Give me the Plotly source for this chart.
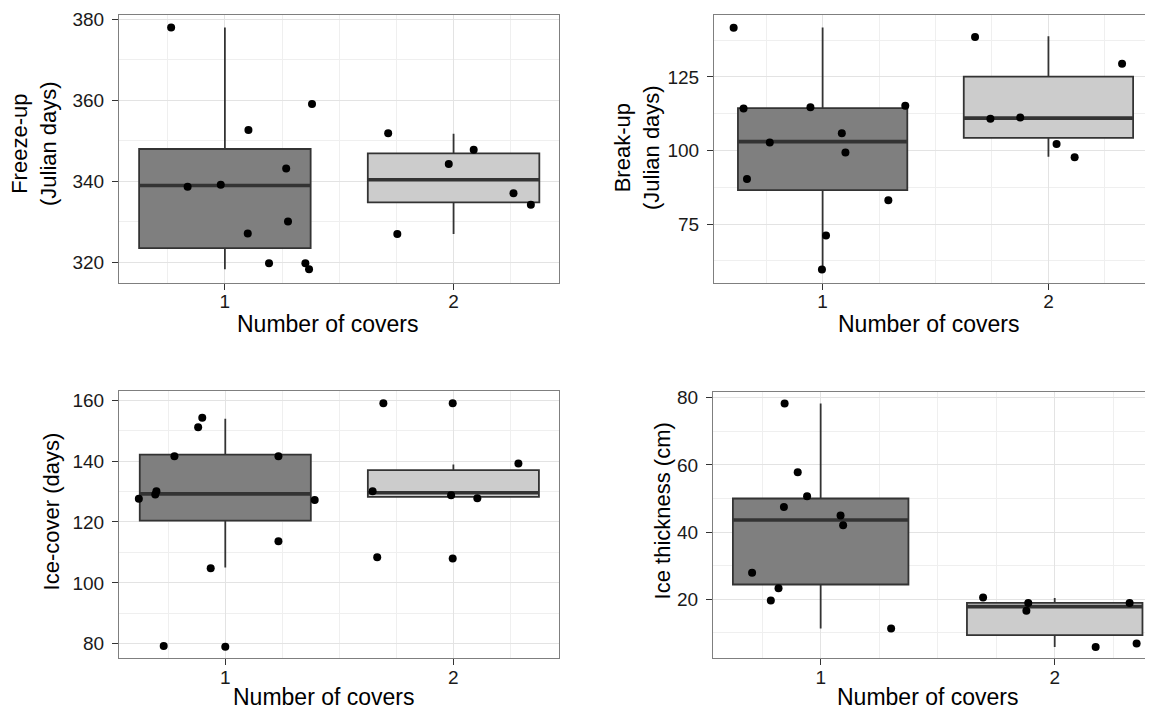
import plotly.graph_objects as go

# ---------------- data ----------------
groups = [1, 2]
tick_labels = ["1", "2"]

# Panel A: Freeze-up (Julian days)
freeze_x1 = [0.765, 0.837, 0.982, 1.103, 1.100, 1.193, 1.268, 1.276, 1.381, 1.352, 1.368]
freeze_y1 = [378.0, 338.7, 339.2, 352.7, 327.1, 319.8, 343.2, 330.1, 359.1, 319.8, 318.3]
freeze_x2 = [1.714, 1.754, 1.979, 2.088, 2.262, 2.338]
freeze_y2 = [351.9, 327.0, 344.3, 347.8, 337.1, 334.2]
freeze_lower = [318.3, 327.0]
freeze_q1 = [323.5, 334.8]
freeze_median = [339.0, 340.4]
freeze_q3 = [348.0, 346.9]
freeze_upper = [378.0, 351.8]

# Panel B: Break-up (Julian days)
break_x1 = [0.606, 0.650, 0.665, 0.766, 0.946, 0.997, 1.015, 1.085, 1.101, 1.291, 1.366]
break_y1 = [141.7, 114.3, 90.3, 102.7, 114.7, 59.5, 71.1, 105.9, 99.3, 83.1, 115.2]
break_x2 = [1.675, 1.743, 1.875, 2.036, 2.116, 2.326]
break_y2 = [138.6, 110.8, 111.2, 102.2, 97.7, 129.5]
break_lower = [59.5, 97.9]
break_q1 = [86.5, 104.3]
break_median = [103.0, 111.0]
break_q3 = [114.4, 125.1]
break_upper = [141.8, 138.8]

# Panel C: Ice-cover (days)
cover_x1 = [0.621, 0.693, 0.698, 0.730, 0.777, 0.881, 0.899, 0.936, 1.000, 1.233, 1.233, 1.392]
cover_y1 = [127.6, 129.0, 130.1, 79.3, 141.6, 151.1, 154.2, 104.8, 79.0, 141.6, 113.7, 127.2]
cover_x2 = [1.646, 1.693, 1.666, 1.997, 1.990, 1.997, 2.105, 2.285]
cover_y2 = [130.1, 159.0, 108.4, 159.0, 128.8, 108.0, 127.8, 139.2]
cover_lower = [105.0, 128.2]
cover_q1 = [120.4, 128.2]
cover_median = [129.2, 129.6]
cover_q3 = [142.1, 137.0]
cover_upper = [153.9, 138.9]

# Panel D: Ice thickness (cm)
thick_x1 = [0.846, 0.902, 0.942, 0.843, 1.085, 1.096, 0.707, 0.820, 0.787, 1.301]
thick_y1 = [78.3, 57.8, 50.7, 47.5, 44.9, 42.0, 27.9, 23.3, 19.6, 11.3]
thick_x2 = [1.694, 1.887, 1.879, 2.175, 2.320, 2.350]
thick_y2 = [20.5, 18.9, 16.6, 5.8, 18.9, 6.8]
thick_lower = [11.3, 5.8]
thick_q1 = [24.4, 9.3]
thick_median = [43.6, 17.8]
thick_q3 = [50.0, 18.9]
thick_upper = [78.3, 20.4]

panels = [
    dict(px=[freeze_x1, freeze_x2], py=[freeze_y1, freeze_y2], lo=freeze_lower, q1=freeze_q1,
         med=freeze_median, q3=freeze_q3, hi=freeze_upper,
         ytitle="Freeze-up<br>(Julian days)",
         yticks=[320, 340, 360, 380], yminor=[310, 330, 350, 370], yrange=[315.0, 381.0],
         xrange=[0.537, 2.461]),
    dict(px=[break_x1, break_x2], py=[break_y1, break_y2], lo=break_lower, q1=break_q1,
         med=break_median, q3=break_q3, hi=break_upper,
         ytitle="Break-up<br>(Julian days)",
         yticks=[75, 100, 125], yminor=[62.5, 87.5, 112.5, 137.5], yrange=[55.1, 145.9],
         xrange=[0.519, 2.463]),
    dict(px=[cover_x1, cover_x2], py=[cover_y1, cover_y2], lo=cover_lower, q1=cover_q1,
         med=cover_median, q3=cover_q3, hi=cover_upper,
         ytitle="Ice-cover (days)",
         yticks=[80, 100, 120, 140, 160], yminor=[90, 110, 130, 150], yrange=[75.2, 162.9],
         xrange=[0.534, 2.463]),
    dict(px=[thick_x1, thick_x2], py=[thick_y1, thick_y2], lo=thick_lower, q1=thick_q1,
         med=thick_median, q3=thick_q3, hi=thick_upper,
         ytitle="Ice thickness (cm)",
         yticks=[20, 40, 60, 80], yminor=[10, 30, 50, 70], yrange=[2.4, 81.7],
         xrange=[0.54, 2.42]),
]

# ---------------- layout geometry (screen pixels) ----------------
SCREEN_W, SCREEN_H = 1153, 711
OFF = 8                      # default page body margin
W, H = SCREEN_W - OFF, SCREEN_H - OFF


def px_x(x):
    return (x - OFF) / W


def px_y(y):
    return 1 - (y - OFF) / H


xdom_px = [(119, 559), (714, 1153), (119, 559), (713, 1153)]
ydom_px = [(10.5, 279.5), (10.5, 279.5), (389.0, 658.0), (389.7, 658.0)]
ytitle_pos = [(34, 140), (637, 144), (51, 510), (662, 510)]
xtitle_pos = [(328, 321), (929, 321), (324, 697), (928, 697)]
right_side = [False, True, False, True]

box_width = 0.75
fills = ["#7f7f7f", "#cccccc"]
edge = "#333333"
FONT = "Liberation Sans, Arial, Helvetica, sans-serif"
TICK_SIZE = 19
XTITLE_SIZE = 23
YTITLE_SIZE = 22

fig = go.Figure()
annotations = []
layout = {}

for i, p in enumerate(panels):
    n = "" if i == 0 else str(i + 1)
    xa, ya = "x" + n, "y" + n
    for g in range(2):
        fig.add_trace(go.Box(
            x=[groups[g]], q1=[p["q1"][g]], median=[p["med"][g]], q3=[p["q3"][g]],
            lowerfence=[p["lo"][g]], upperfence=[p["hi"][g]],
            width=box_width, fillcolor=fills[g], whiskerwidth=0,
            line=dict(color=edge, width=1.8), boxpoints=False,
            xaxis=xa, yaxis=ya, hoverinfo="skip"))
        fig.add_trace(go.Scatter(
            x=[groups[g] - box_width / 2, groups[g] + box_width / 2],
            y=[p["med"][g], p["med"][g]], mode="lines",
            line=dict(color=edge, width=3.6), xaxis=xa, yaxis=ya, hoverinfo="skip"))
    for g in range(2):
        fig.add_trace(go.Scatter(
            x=p["px"][g], y=p["py"][g], mode="markers",
            marker=dict(color="black", size=8), xaxis=xa, yaxis=ya, hoverinfo="skip"))

    x0, x1 = xdom_px[i]
    y0, y1 = ydom_px[i]
    common = dict(
        showline=True, linecolor="#7f7f7f", linewidth=1,
        ticks="outside", ticklen=6, tickwidth=1, tickcolor="#333333",
        tickfont=dict(family=FONT, size=TICK_SIZE, color="#1a1a1a"),
        showgrid=True, gridcolor="#e3e3e3", gridwidth=1, zeroline=False,
    )
    layout["xaxis" + n] = dict(
        common, mirror=True, domain=[px_x(x0), min(1.0, px_x(x1))], range=p["xrange"],
        anchor=ya, tickvals=groups, ticktext=tick_labels, ticklabelstandoff=-4,
        minor=dict(tickvals=[0.75, 1.25, 1.5, 1.75, 2.25], showgrid=True,
                   gridcolor="#efefef", gridwidth=1, ticks=""))
    layout["yaxis" + n] = dict(
        common, mirror=(not right_side[i]), domain=[px_y(y1), px_y(y0)], range=p["yrange"],
        anchor=xa, tickvals=p["yticks"], ticklabelstandoff=4,
        minor=dict(tickvals=p["yminor"], showgrid=True,
                   gridcolor="#efefef", gridwidth=1, ticks=""))

    tx, ty = ytitle_pos[i]
    annotations.append(dict(text=p["ytitle"], x=px_x(tx), y=px_y(ty), xref="paper", yref="paper",
                            showarrow=False, textangle=-90, xanchor="center", yanchor="middle",
                            font=dict(family=FONT, size=YTITLE_SIZE, color="black")))
    tx, ty = xtitle_pos[i]
    annotations.append(dict(text="Number of covers", x=px_x(tx), y=px_y(ty), xref="paper",
                            yref="paper", showarrow=False, xanchor="center", yanchor="middle",
                            font=dict(family=FONT, size=XTITLE_SIZE, color="black")))

fig.update_layout(
    width=W, height=H, margin=dict(l=0, r=0, t=0, b=0),
    paper_bgcolor="white", plot_bgcolor="white", showlegend=False,
    annotations=annotations, font=dict(family=FONT), **layout)

fig.write_html("out.html")
